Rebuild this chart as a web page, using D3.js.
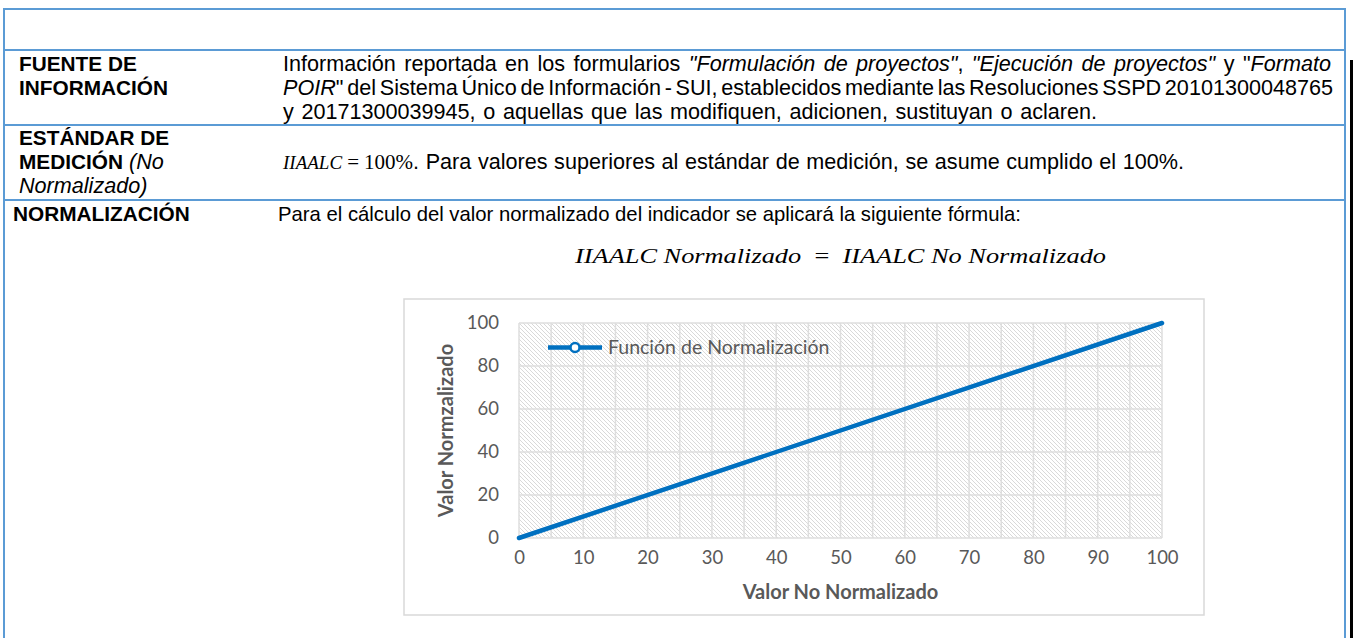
<!DOCTYPE html>
<html>
<head>
<meta charset="utf-8">
<script src="https://cdn.jsdelivr.net/npm/d3@7"></script>
<style>
  body { margin: 0; background: #fff; }
  svg { display: block; }
</style>
</head>
<body>
<script>
// chart data
var seriesName = 'Función de Normalización';
var xValues = [0, 100];
var yValues = [0, 100];
var xTickValues = [0, 10, 20, 30, 40, 50, 60, 70, 80, 90, 100];
var yTickValues = [0, 20, 40, 60, 80, 100];
var xGridValues = [0, 5, 10, 15, 20, 25, 30, 35, 40, 45, 50, 55, 60, 65, 70, 75, 80, 85, 90, 95, 100];
var xTitle = 'Valor No Normalizado';
var yTitle = 'Valor Normzalizado';

var W = 1353, H = 638;
var blue = '#5B9BD5';
var grayTxt = '#595959';
var bodyFont = '"Liberation Sans", Arial, sans-serif';
var mathFont = '"Liberation Serif", "Times New Roman", serif';
var chartFont = 'Lato, "Open Sans", sans-serif';
var fsBold = 20.8;
var fsReg = 21.6;

var svg = d3.select('body').append('svg')
  .attr('width', W)
  .attr('height', H);

// ---- table frame
var tbl = svg.append('g');
[9, 50, 125, 200].forEach(function (y) {
  tbl.append('line').attr('x1', 3).attr('x2', 1346).attr('y1', y).attr('y2', y)
    .style('stroke', blue).style('stroke-width', 2);
});
[4, 1345].forEach(function (x) {
  tbl.append('line').attr('x1', x).attr('x2', x).attr('y1', 8).attr('y2', H)
    .style('stroke', blue).style('stroke-width', 2);
});
tbl.append('rect').attr('x', 1350).attr('y', 60).attr('width', 3).attr('height', H - 60)
  .style('fill', '#000');

// helper: write a line made of [text, bold, italic, font, size] pieces
function writeLine(x, y, parts, justifyTo) {
  var t = tbl.append('text').attr('x', x).attr('y', y)
    .style('fill', '#000')
    .attr('xml:space', 'preserve');
  parts.forEach(function (p) {
    t.append('tspan').text(p[0])
      .style('font-family', p[3] || bodyFont)
      .style('font-size', (p[4] || (p[1] ? fsBold : fsReg)) + 'px')
      .style('font-weight', p[1] ? 'bold' : 'normal')
      .style('font-style', p[2] ? 'italic' : 'normal');
  });
  if (justifyTo) {
    var len = t.node().getComputedTextLength();
    var full = parts.map(function (p) { return p[0]; }).join('');
    var spaces = (full.match(/ /g) || []).length;
    t.style('word-spacing', ((justifyTo - x - len) / spaces) + 'px');
  }
  return t;
}

// row: fuente
writeLine(19, 71, [['FUENTE DE', true, false]]);
writeLine(19, 95, [['INFORMACIÓN', true, false]]);
writeLine(283, 71, [
  ['Información reportada en los formularios ', false, false],
  ['"Formulación de proyectos"', false, true],
  [', ', false, false],
  ['"Ejecución de proyectos"', false, true],
  [' y "', false, false],
  ['Formato', false, true]
], 1331);
writeLine(283, 95, [
  ['POIR', false, true],
  ['" del Sistema Único de Información - SUI, establecidos mediante las Resoluciones SSPD 20101300048765', false, false]
], 1333);
writeLine(283, 119, [['y 20171300039945, o aquellas que las modifiquen, adicionen, sustituyan o aclaren.', false, false]], 1097);

// row: estandar
writeLine(19, 145, [['ESTÁNDAR DE', true, false]]);
writeLine(19, 169, [['MEDICIÓN', true, false], [' (No', false, true]]);
writeLine(19, 193, [['Normalizado)', false, true]]);
writeLine(283, 169, [
  ['IIAALC', false, true, mathFont, 19],
  [' = 100%', false, false, mathFont, 21]
], 413);
writeLine(413, 169, [['. Para valores superiores al estándar de medición, se asume cumplido el 100%.', false, false]], 1184);

// row: normalizacion
writeLine(13, 221, [['NORMALIZACIÓN', true, false]]);
writeLine(278, 221, [['Para el cálculo del valor normalizado del indicador se aplicará la siguiente fórmula:', false, false, bodyFont, 20.3]]);

var fx = tbl.append('text').attr('x', 575).attr('y', 263)
  .attr('xml:space', 'preserve')
  .attr('textLength', 531).attr('lengthAdjust', 'spacingAndGlyphs')
  .style('font-family', mathFont).style('font-size', '22px').style('fill', '#000');
fx.append('tspan').text('IIAALC Normalizado').style('font-style', 'italic');
fx.append('tspan').text('  =  ');
fx.append('tspan').text('IIAALC No Normalizado').style('font-style', 'italic');

// ---- chart
var box = { x: 404, y: 299, w: 800, h: 316 };
var plot = { l: 519, r: 1162, t: 323, b: 538 };

var defs = svg.append('defs');
var pat = defs.append('pattern').attr('id', 'hatch')
  .attr('patternUnits', 'userSpaceOnUse').attr('width', 4).attr('height', 4);
pat.append('rect').attr('width', 4).attr('height', 4).style('fill', '#fff');
pat.append('path').attr('d', 'M-1,-1L5,5M-1,3L1,5M3,-1L5,1')
  .style('stroke', '#cfcfcf').style('stroke-width', 0.8);

var chart = svg.append('g');
chart.append('rect')
  .attr('x', box.x).attr('y', box.y).attr('width', box.w).attr('height', box.h)
  .style('fill', '#fff').style('stroke', '#d9d9d9').style('stroke-width', 1.5);

var x = d3.scaleLinear().domain([0, 100]).range([plot.l, plot.r]);
var y = d3.scaleLinear().domain([0, 100]).range([plot.b, plot.t]);

chart.append('rect')
  .attr('x', plot.l).attr('y', plot.t)
  .attr('width', plot.r - plot.l).attr('height', plot.b - plot.t)
  .style('fill', 'url(#hatch)');

// gridlines
chart.selectAll('.vgrid').data(xGridValues).join('line')
  .attr('class', 'vgrid')
  .attr('x1', d => x(d)).attr('x2', d => x(d))
  .attr('y1', plot.t).attr('y2', plot.b)
  .style('stroke', '#dedede').style('stroke-width', 1.5);
chart.selectAll('.hgrid').data(yTickValues).join('line')
  .attr('class', 'hgrid')
  .attr('x1', plot.l).attr('x2', plot.r)
  .attr('y1', d => y(d)).attr('y2', d => y(d))
  .style('stroke', '#dedede').style('stroke-width', 1.5);

// axes (labels only)
var xAxis = chart.append('g')
  .attr('transform', 'translate(0,' + plot.b + ')')
  .call(d3.axisBottom(x).tickValues(xTickValues).tickSize(0).tickPadding(13));
var yAxis = chart.append('g')
  .attr('transform', 'translate(' + plot.l + ',0)')
  .call(d3.axisLeft(y).tickValues(yTickValues).tickSize(0).tickPadding(20));
[xAxis, yAxis].forEach(function (a) {
  a.select('.domain').remove();
  a.selectAll('text')
    .style('font-family', chartFont).style('font-size', '18.5px').style('fill', grayTxt);
});

chart.append('text')
  .attr('transform', 'translate(446,' + ((plot.t + plot.b) / 2) + ') rotate(-90)')
  .attr('text-anchor', 'middle').attr('dy', '0.35em')
  .style('font-family', chartFont).style('font-weight', 'bold')
  .style('font-size', '20px').style('fill', grayTxt)
  .text(yTitle);
chart.append('text')
  .attr('x', (plot.l + plot.r) / 2).attr('y', 592)
  .attr('text-anchor', 'middle').attr('dy', '0.35em')
  .style('font-family', chartFont).style('font-weight', 'bold')
  .style('font-size', '20px').style('fill', grayTxt)
  .text(xTitle);

// series line
var pts = xValues.map((d, i) => [d, yValues[i]]);
chart.append('path')
  .datum(pts)
  .attr('d', d3.line().x(d => x(d[0])).y(d => y(d[1])))
  .style('fill', 'none').style('stroke', '#0070C0').style('stroke-width', 4.5)
  .style('stroke-linecap', 'round');

// legend
var lg = chart.append('g').attr('transform', 'translate(548,347.5)');
lg.append('line').attr('x1', 0).attr('x2', 54)
  .style('stroke', '#0070C0').style('stroke-width', 4.5);
lg.append('circle').attr('cx', 27).attr('r', 4.5)
  .style('fill', '#fff').style('stroke', '#0070C0').style('stroke-width', 2.5);
lg.append('text').attr('x', 60).attr('dy', '0.35em')
  .style('font-family', chartFont).style('font-size', '19.5px').style('fill', grayTxt)
  .text(seriesName);
</script>
</body>
</html>
